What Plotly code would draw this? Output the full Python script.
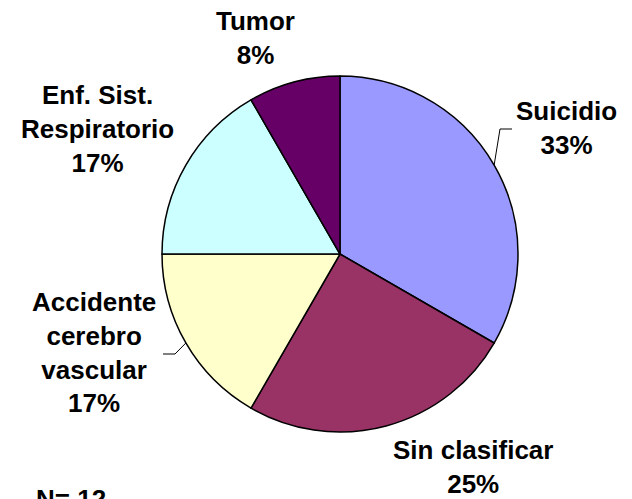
import math
import plotly.graph_objects as go

# ---- data ----
categories = ["Suicidio", "Sin clasificar", "Accidente<br>cerebro<br>vascular",
              "Enf. Sist.<br>Respiratorio", "Tumor"]
values = [4, 3, 2, 2, 1]
colors = ["#9999FF", "#993366", "#FFFFCC", "#CCFFFF", "#660066"]
n_text = "N= 12"

# ---- layout constants (pixels) ----
W, H = 632, 499
CX, CY, R = 340, 254, 178
label_pos = [(566, 128), (473, 467), (94, 352), (97, 129), (255, 38)]
leader = {0: [(500, 129), (512, 129)], 2: [(175, 354), (163, 354)]}
FONT = dict(family="Liberation Sans, Arial, sans-serif", size=26, color="black")


def px(x, y):
    return x / W, 1 - y / H


total = sum(values)
fig = go.Figure(go.Pie(
    labels=[c.replace("<br>", " ") for c in categories],
    values=values,
    sort=False,
    direction="clockwise",
    rotation=0,
    marker=dict(colors=colors, line=dict(color="black", width=1.5)),
    textinfo="none",
    hoverinfo="label+percent",
    domain=dict(x=[(CX - R) / W, (CX + R) / W],
                y=[(H - CY - R) / H, (H - CY + R) / H]),
    showlegend=False,
))

annotations = []
shapes = []
cum = 0
for i, (cat, v) in enumerate(zip(categories, values)):
    pct = round(v / total * 100)
    lx, ly = label_pos[i]
    ax, ay = px(lx, ly)
    annotations.append(dict(x=ax, y=ay, xref="paper", yref="paper",
                            text=f"<b>{cat}<br>{pct}%</b>", showarrow=False,
                            font=FONT, align="center",
                            xanchor="center", yanchor="middle"))
    mid = (cum + v / 2) / total * 2 * math.pi
    cum += v
    if i in leader:
        ex, ey = CX + R * math.sin(mid), CY - R * math.cos(mid)
        pts = [(ex, ey)] + leader[i]
        path = "M " + " L ".join(f"{px(x, y)[0]},{px(x, y)[1]}" for x, y in pts)
        shapes.append(dict(type="path", path=path, xref="paper", yref="paper",
                           line=dict(color="black", width=1)))

nx, ny = px(71, 499)
annotations.append(dict(x=nx, y=ny, xref="paper", yref="paper",
                        text=f"<b>{n_text}</b>", showarrow=False, font=FONT,
                        xanchor="center", yanchor="middle"))

fig.update_layout(width=W, height=H, margin=dict(l=0, r=0, t=0, b=0),
                  paper_bgcolor="white", plot_bgcolor="white",
                  annotations=annotations, shapes=shapes)
fig.write_html("out.html", config={"displayModeBar": False},
               post_script="document.body.style.margin='0';document.body.style.overflow='hidden';")
